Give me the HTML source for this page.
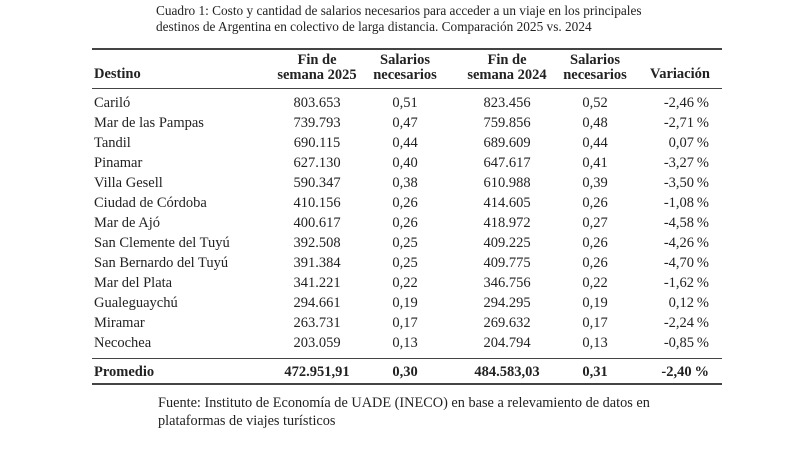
<!DOCTYPE html>
<html><head><meta charset="utf-8"><style>
body{margin:0;width:800px;height:449px;background:#fff;font-family:"Liberation Serif",serif;color:#222;position:relative;overflow:hidden}
.t{position:absolute;white-space:nowrap;font-size:14.5px}
.c{transform:translateX(-50%);text-align:center}
.r{transform:translateX(-100%)}
.rule{position:absolute;left:92px;width:630px;background:#444}
.h{font-weight:bold;line-height:15px}
</style></head><body>
<div class="t" style="left:156px;top:3px;font-size:13.3px;line-height:16px">Cuadro 1: Costo y cantidad de salarios necesarios para acceder a un viaje en los principales<br>destinos de Argentina en colectivo de larga distancia. Comparación 2025 vs. 2024</div>
<div class="rule" style="top:48px;height:2px"></div>
<div class="t h" style="left:94px;top:67px">Destino</div>
<div class="t h c" style="left:317px;top:53px">Fin de<br>semana 2025</div>
<div class="t h c" style="left:405px;top:53px">Salarios<br>necesarios</div>
<div class="t h c" style="left:507px;top:53px">Fin de<br>semana 2024</div>
<div class="t h c" style="left:595px;top:53px">Salarios<br>necesarios</div>
<div class="t h c" style="left:680px;top:67px">Variación</div>
<div class="rule" style="top:88px;height:1px"></div>
<div id="rows"></div>
<div class="rule" style="top:358px;height:1px"></div>
<div class="rule" style="top:383px;height:2px"></div>
<div class="t" style="left:158px;top:394px;font-size:14.3px;line-height:18px">Fuente: Instituto de Economía de UADE (INECO) en base a relevamiento de datos en<br>plataformas de viajes turísticos</div>
<script>
const destinos=["Cariló","Mar de las Pampas","Tandil","Pinamar","Villa Gesell","Ciudad de Córdoba","Mar de Ajó","San Clemente del Tuyú","San Bernardo del Tuyú","Mar del Plata","Gualeguaychú","Miramar","Necochea","Promedio"];
const costo2025=["803.653","739.793","690.115","627.130","590.347","410.156","400.617","392.508","391.384","341.221","294.661","263.731","203.059","472.951,91"];
const sal2025=["0,51","0,47","0,44","0,40","0,38","0,26","0,26","0,25","0,25","0,22","0,19","0,17","0,13","0,30"];
const costo2024=["823.456","759.856","689.609","647.617","610.988","414.605","418.972","409.225","409.775","346.756","294.295","269.632","204.794","484.583,03"];
const sal2024=["0,52","0,48","0,44","0,41","0,39","0,26","0,27","0,26","0,26","0,22","0,19","0,17","0,13","0,31"];
const variacion=["-2,46%","-2,71%","0,07%","-3,27%","-3,50%","-1,08%","-4,58%","-4,26%","-4,70%","-1,62%","0,12%","-2,24%","-0,85%","-2,40%"];
const box=document.getElementById('rows');
destinos.forEach((d,i)=>{
  const avg=i===destinos.length-1;
  const top=avg?364:95+i*20;
  const cells=[[d,94,''],[costo2025[i],317,'c'],[sal2025[i],405,'c'],[costo2024[i],507,'c'],[sal2024[i],595,'c'],[variacion[i].replace('%','\u2009%'),709,'r']];
  const names=['destino','costo-2025','salarios-2025','costo-2024','salarios-2024','variacion'];
  cells.forEach((c,j)=>{
    const el=document.createElement('div');
    el.className='t '+c[2];
    el.style.left=c[1]+'px';el.style.top=top+'px';
    if(avg)el.style.fontWeight='bold';
    el.textContent=c[0];
    
    
    box.appendChild(el);
  });
});
</script>
</body></html>
